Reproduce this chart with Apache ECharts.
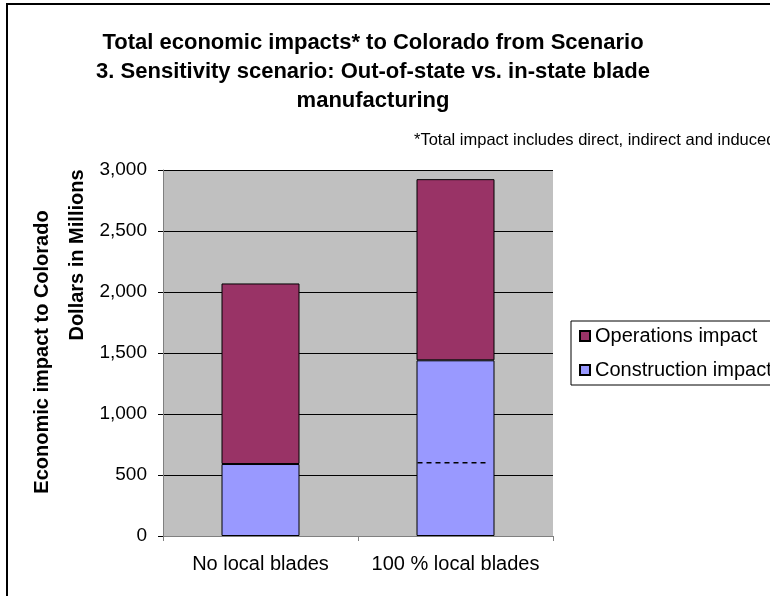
<!DOCTYPE html>
<html>
<head>
<meta charset="utf-8">
<script src="https://cdn.jsdelivr.net/npm/echarts@6/dist/echarts.min.js"></script>
<style>html,body{margin:0;padding:0;background:#fff}#c{width:770px;height:596px}</style>
</head>
<body>
<div id="c"></div>
<script>
var categories = ['No local blades', '100 % local blades'];
var constructionImpact = [590, 1440];
var operationsImpact = [1480, 1485];
var dashedMark = [null, 600];
var yTicks = { min: 0, max: 3000, interval: 500 };
var titleLines = ['Total economic impacts* to Colorado from Scenario', '3. Sensitivity scenario: Out-of-state vs. in-state blade', 'manufacturing'];
var noteText = '*Total impact includes direct, indirect and induced';
var yTitle1 = 'Economic impact to Colorado';
var yTitle2 = 'Dollars in Millions';

var chart = echarts.init(document.getElementById('c'));
var FONT = 'Liberation Sans, Arial, sans-serif';
var TX = 373;
chart.setOption({
  animation: false,
  backgroundColor: '#fff',
  grid: { left: 163, right: 217, top: 170, bottom: 60, show: true, backgroundColor: '#C0C0C0', borderWidth: 0 },
  legend: {
    data: ['Operations impact', 'Construction impact'],
    orient: 'vertical', left: 571, top: 321,
    itemWidth: 10, itemHeight: 10, itemGap: 14,
    padding: [5, 40, 5, 8],
    borderColor: '#000', borderWidth: 1,
    textStyle: { fontFamily: FONT, fontSize: 20, color: '#000', lineHeight: 20 },
    icon: 'rect'
  },
  xAxis: {
    type: 'category', data: categories,
    axisLine: { lineStyle: { color: '#808080', width: 1 } },
    axisTick: { show: true, alignWithLabel: false, length: 5, lineStyle: { color: '#808080' } },
    axisLabel: { fontFamily: FONT, fontSize: 20, color: '#000', margin: 18, interval: 0 }
  },
  yAxis: {
    type: 'value', min: yTicks.min, max: yTicks.max, interval: yTicks.interval,
    axisLine: { show: true, lineStyle: { color: '#808080' } },
    axisTick: { show: true, length: 5, lineStyle: { color: '#000' } },
    splitLine: { show: true, lineStyle: { color: '#000', width: 1 } },
    axisLabel: {
      fontFamily: FONT, fontSize: 19, color: '#000', margin: 16,
      formatter: function (v) { return v.toLocaleString('en-US'); }
    }
  },
  graphic: [
    { type: 'rect', shape: { x: 7, y: 4, width: 900, height: 800 }, style: { fill: 'none', stroke: '#000', lineWidth: 2 }, silent: true },
    { type: 'text', style: { x: TX, y: 43, text: titleLines[0], textAlign: 'center', textVerticalAlign: 'middle', font: 'bold 22px ' + FONT, fill: '#000' } },
    { type: 'text', style: { x: TX, y: 72, text: titleLines[1], textAlign: 'center', textVerticalAlign: 'middle', font: 'bold 22px ' + FONT, fill: '#000' } },
    { type: 'text', style: { x: TX, y: 101, text: titleLines[2], textAlign: 'center', textVerticalAlign: 'middle', font: 'bold 22px ' + FONT, fill: '#000' } },
    { type: 'text', style: { x: 414, y: 140, text: noteText, textAlign: 'left', textVerticalAlign: 'middle', font: '16.5px ' + FONT, fill: '#000' } },
    { type: 'text', x: 42, y: 352, rotation: Math.PI / 2, style: { x: 0, y: 0, text: yTitle1, textAlign: 'center', textVerticalAlign: 'middle', font: 'bold 20px ' + FONT, fill: '#000' } },
    { type: 'text', x: 77, y: 255, rotation: Math.PI / 2, style: { x: 0, y: 0, text: yTitle2, textAlign: 'center', textVerticalAlign: 'middle', font: 'bold 20px ' + FONT, fill: '#000' } }
  ],
  series: [
    {
      name: 'Construction impact', type: 'bar', stack: 'total', data: constructionImpact,
      barWidth: '40%',
      itemStyle: { color: '#9999FF', borderColor: '#000', borderWidth: 1 }
    },
    {
      name: 'Operations impact', type: 'bar', stack: 'total', data: operationsImpact,
      barWidth: '40%',
      itemStyle: { color: '#993366', borderColor: '#000', borderWidth: 1 }
    },
    {
      name: 'marker', type: 'custom', data: dashedMark.map(function (v, i) { return [i, v]; }),
      z: 10,
      renderItem: function (params, api) {
        var v = api.value(1);
        if (v == null || isNaN(v)) return;
        var p = api.coord([api.value(0), v]);
        var bw = api.size([1, 0])[0] * 0.4;
        return {
          type: 'line',
          shape: { x1: p[0] - bw / 2 + 1, y1: p[1], x2: p[0] + bw / 2 - 7, y2: p[1] },
          style: { stroke: '#000', lineWidth: 1.5, lineDash: [5, 4] }
        };
      }
    }
  ]
});
</script>
</body>
</html>
